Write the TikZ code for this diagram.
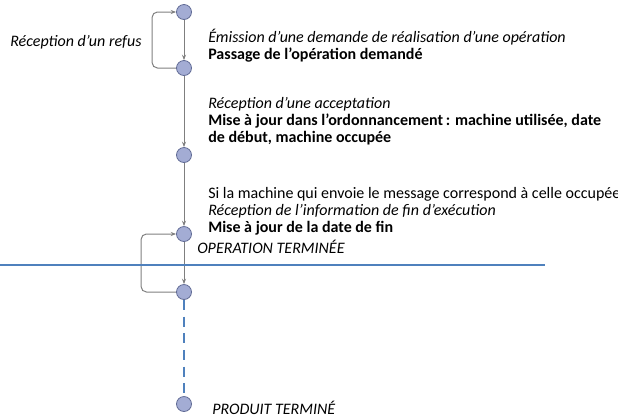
\documentclass[tikz,border=0pt]{standalone}
\usepackage{fontspec}
\setmainfont{Carlito}
\usetikzlibrary{arrows.meta}
\definecolor{etatfill}{RGB}{163,172,212}
\definecolor{etatdraw}{RGB}{98,108,150}
\definecolor{lienc}{RGB}{127,127,127}
\definecolor{bleuc}{RGB}{79,129,189}
\tikzset{
  etat/.style={circle, draw=etatdraw, fill=etatfill, line width=0.6pt, minimum size=11.25pt, inner sep=0pt},
  lien/.style={draw=lienc, line width=0.75pt, -{Stealth[length=4pt,width=3pt]}},
  boucle/.style={lien, rounded corners=4pt},
  texte/.style={anchor=west, align=left, inner sep=0pt, font=\fontsize{12}{12.75}\selectfont}
}

\begin{document}
\begin{tikzpicture}[x=0.75pt, y=-0.75pt]
          \useasboundingbox (0, 0) rectangle (618, 419);
          \node [etat] (e1) at (184, 12) {};
          \node [etat] (e2) at (184, 68) {};
          \node [etat] (e3) at (184, 155) {};
          \node [etat] (e4) at (184, 234) {};
          \node [etat] (e5) at (184, 292) {};
          \node [etat] (e6) at (184, 404) {};

          \draw [lien] (e1) -- (e2);
          \draw [lien] (e2) -- (e3);
          \draw [lien] (e3) -- (e4);
          \draw [lien] (e4) -- (e5);
          \draw [boucle] (e2.west) -- ++(-24, 0) |- (e1.west);
          \draw [boucle] (e5.west) -- ++(-35, 0) |- (e4.west);
          \draw [bleuc, line width=1.1pt, dash pattern=on 7.5pt off 5pt] (e5) -- (e6);

          \draw [bleuc, line width=1.1pt] (0, 265) -- (545, 265);

          \node [texte] (refus) at (10, 42) {\itshape Réception d’un refus};
          \node [texte] (t1) at (208, 46) {\itshape Émission d’une demande de réalisation d’une opération\\
            \bfseries Passage de l’opération demandé};
          \node [texte] (t2) at (208, 121) {\itshape Réception d’une acceptation\\
            \bfseries Mise à jour dans l’ordonnancement\,: machine utilisée, date\\
            \bfseries de début, machine occupée};
          \node [texte] (t3) at (208, 211) {Si la machine qui envoie le message correspond à celle occupée\\
            \itshape Réception de l’information de fin d’exécution\\
            \bfseries Mise à jour de la date de fin};
          \node [texte] (fin1) at (197, 247) {\itshape OPERATION TERMINÉE};
          \node [texte] (fin2) at (212, 408) {\itshape PRODUIT TERMINÉ};
\end{tikzpicture}
\end{document}
